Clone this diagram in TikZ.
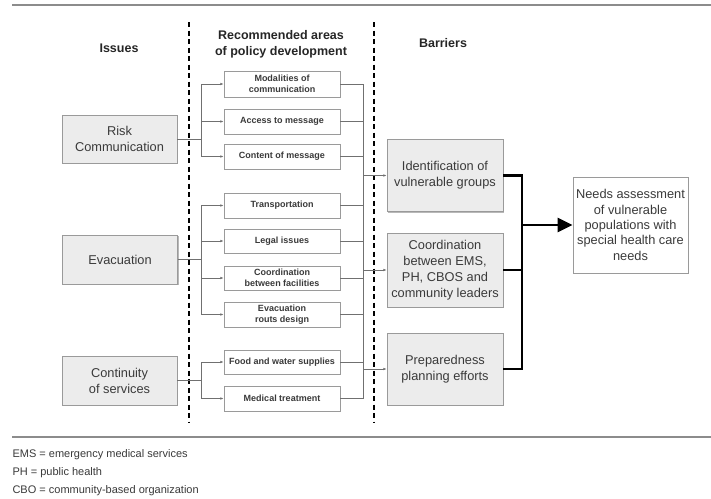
\documentclass[tikz,border=0pt]{standalone}
\usepackage{fontspec}
\setmainfont{Liberation Sans}
\usetikzlibrary{arrows.meta,shadows}
\definecolor{boxfill}{HTML}{ECECEC}
\definecolor{boxline}{HTML}{9A9A9A}
\definecolor{txt}{HTML}{3A3A3A}
\definecolor{conn}{HTML}{707070}
\definecolor{rule}{HTML}{8C8C8C}
\begin{document}
\begin{tikzpicture}[x=1pt,y=-1pt,
  shadowed/.style={drop shadow={shadow xshift=1.3pt,shadow yshift=-1.3pt,fill=black!28,opacity=1}},
  issuebox/.style={draw=boxline,line width=0.8pt,fill=boxfill,shadowed,align=center,inner sep=0pt,
    minimum width=115pt,text=txt,font=\fontsize{12.8}{16}\selectfont},
  policybox/.style={draw=boxline,line width=0.8pt,fill=white,shadowed,align=center,inner sep=0pt,
    minimum width=116pt,text=txt,font=\fontsize{9}{10.7}\selectfont\bfseries},
  barrierbox/.style={draw=boxline,line width=0.8pt,fill=boxfill,shadowed,align=center,inner sep=0pt,
    minimum width=116pt,text=txt,font=\fontsize{12.8}{15.8}\selectfont},
  needsbox/.style={draw=boxline,line width=0.8pt,fill=white,shadowed,align=center,inner sep=0pt,
    minimum width=115pt,minimum height=96pt,text=txt,font=\fontsize{12.8}{15.3}\selectfont},
  header/.style={align=center,font=\fontsize{12.5}{16}\selectfont\bfseries,text=black!85},
  thin/.style={draw=conn,line width=0.7pt},
  arr/.style={thin,-{Latex[length=3.2pt,width=2.6pt]}},
  thick/.style={draw=black,line width=2.8pt},
  bigarr/.style={thick,-{Triangle[length=15pt,width=14pt]}},
  divider/.style={draw=black,line width=1.9pt,dash pattern=on 5pt off 3.5pt},
  legend/.style={anchor=west,text=txt,font=\fontsize{11}{12}\selectfont}
]
\useasboundingbox (0,0) rectangle (711,498);
\fill[white] (0,0) rectangle (711,498);

% rules
\draw[rule,line width=1.8pt] (12,5) -- (711,5);
\draw[rule,line width=1.8pt] (12,437) -- (711,437);

% dividers
\draw[divider] (189,22) -- (189,423);
\draw[divider] (374,22) -- (374,423);

% headers
\node[header] (hI) at (119,48) {Issues};
\node[header] (hR) at (281,44) {Recommended areas\\of policy development};
\node[header] (hB) at (443,43) {Barriers};

% issues
\node[issuebox,minimum height=48pt] (risk) at (119.5,139) {Risk\\Communication};
\node[issuebox,minimum height=49pt] (eva) at (120,259.5) {Evacuation};
\node[issuebox,minimum height=49pt] (cos) at (119.5,380.5) {Continuity\\of services};

% policy
\node[policybox,minimum height=26pt] (mod) at (282,84) {Modalities of\\communication};
\node[policybox,minimum height=25pt] (acc) at (282,121.5) {Access to message};
\node[policybox,minimum height=25pt] (con) at (282,156.5) {Content of message};
\node[policybox,minimum height=25pt] (tra) at (282,205.5) {Transportation};
\node[policybox,minimum height=24pt] (leg) at (282,241) {Legal issues};
\node[policybox,minimum height=24pt] (coo) at (282,278) {Coordination\\between facilities};
\node[policybox,minimum height=25pt] (evr) at (282,314.5) {Evacuation\\routs design};
\node[policybox,minimum height=24pt] (foo) at (282,362) {Food and water supplies};
\node[policybox,minimum height=25pt] (med) at (282,398.5) {Medical treatment};

% barriers
\node[barrierbox,minimum height=72pt] (idb) at (445,175.5) {Identification of\\vulnerable groups};
\node[barrierbox,minimum height=74pt] (cob) at (445,270) {Coordination\\between EMS,\\PH, CBOS and\\community leaders};
\node[barrierbox,minimum height=72pt] (prb) at (445,369) {Preparedness\\planning efforts};

% needs
\node[needsbox] (nds) at (630.5,225) {Needs assessment\\of vulnerable\\populations with\\special health care\\needs};

% left buses
\coordinate (b1) at (201,139);
\coordinate (b2) at (201,259.5);
\coordinate (b3) at (201,380.5);
\draw[thin] (risk.east) -- (b1);
\draw[thin] (eva.east) -- (b2);
\draw[thin] (cos.east) -- (b3);
\draw[arr] (b1) |- (mod.west);
\draw[arr] (b1) -- (acc.west -| b1) -- (acc.west);
\draw[arr] (b1) |- (con.west);
\draw[arr] (b2) |- (tra.west);
\draw[arr] (b2) |- (leg.west);
\draw[arr] (b2) |- (coo.west);
\draw[arr] (b2) |- (evr.west);
\draw[arr] (b3) |- (foo.west);
\draw[arr] (b3) |- (med.west);

% right bus
\coordinate (rb) at (363,84);
\foreach \n in {mod,acc,con,tra,leg,coo,evr,foo,med}{
  \draw[thin] (\n.east) -- (\n.east -| rb);
}
\draw[thin] (mod.east -| rb) -- (med.east -| rb);
\draw[arr] (rb |- idb.west) -- (idb.west);
\draw[arr] (rb |- cob.west) -- (cob.west);
\draw[arr] (rb |- prb.west) -- (prb.west);

% thick connectors
\coordinate (tb) at (522,225);
\draw[thick] (idb.east) -- (idb.east -| tb);
\draw[thick] (cob.east) -- (cob.east -| tb);
\draw[thick] (prb.east) -- (prb.east -| tb);
\draw[thick,line cap=rect] (idb.east -| tb) -- (prb.east -| tb);
\draw[bigarr] (tb |- nds.west) -- (nds.west);

% legend
\node[legend] (l1) at (9,455) {EMS = emergency medical services};
\node[legend] (l2) at (9,473) {PH = public health};
\node[legend] (l3) at (9,491) {CBO = community-based organization};
\end{tikzpicture}
\end{document}
